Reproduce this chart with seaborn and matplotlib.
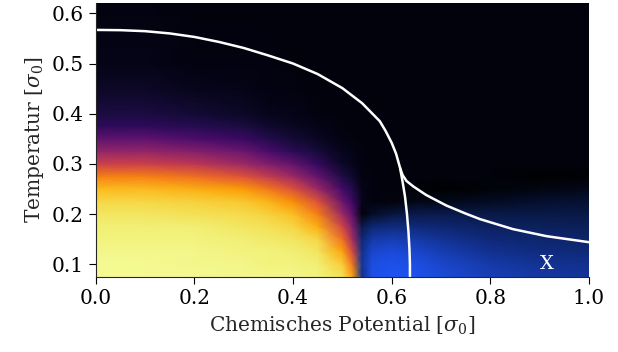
import numpy as np
import matplotlib
matplotlib.use('Agg')
import matplotlib.pyplot as plt
from matplotlib.colors import ListedColormap
import seaborn as sns

# grid of the phase diagram (chemical potential x temperature)
mu_grid = [0.0, 0.1, 0.2, 0.3, 0.35, 0.4, 0.45, 0.5, 0.52, 0.54, 0.56, 0.6, 0.65, 0.7, 0.8, 0.9, 1.0]
T_grid = [0.075, 0.1, 0.125, 0.15, 0.175, 0.2, 0.225, 0.25, 0.275, 0.3, 0.325, 0.35, 0.375, 0.4, 0.45, 0.5, 0.625]

# first order parameter (inferno), rows = T_grid, cols = mu_grid
order_a = [
    [0.98, 0.98, 0.98, 0.97, 0.97, 0.97, 0.96, 0.92, 0.80, 0.35, 0.03, 0.02, 0.02, 0.02, 0.02, 0.02, 0.02],
    [0.98, 0.98, 0.97, 0.97, 0.96, 0.96, 0.95, 0.88, 0.70, 0.25, 0.03, 0.02, 0.02, 0.02, 0.02, 0.02, 0.02],
    [0.97, 0.97, 0.97, 0.96, 0.96, 0.95, 0.93, 0.80, 0.58, 0.18, 0.03, 0.02, 0.02, 0.02, 0.02, 0.02, 0.02],
    [0.96, 0.96, 0.96, 0.95, 0.94, 0.93, 0.90, 0.68, 0.45, 0.13, 0.03, 0.02, 0.02, 0.02, 0.02, 0.02, 0.02],
    [0.95, 0.95, 0.95, 0.93, 0.92, 0.90, 0.82, 0.56, 0.36, 0.10, 0.03, 0.02, 0.02, 0.02, 0.02, 0.02, 0.02],
    [0.93, 0.93, 0.92, 0.91, 0.89, 0.85, 0.72, 0.42, 0.27, 0.07, 0.03, 0.02, 0.02, 0.02, 0.02, 0.02, 0.02],
    [0.90, 0.90, 0.89, 0.87, 0.83, 0.75, 0.60, 0.30, 0.19, 0.05, 0.03, 0.02, 0.02, 0.02, 0.02, 0.02, 0.02],
    [0.84, 0.84, 0.82, 0.78, 0.70, 0.60, 0.42, 0.20, 0.13, 0.04, 0.03, 0.02, 0.02, 0.02, 0.02, 0.02, 0.02],
    [0.72, 0.72, 0.68, 0.60, 0.52, 0.42, 0.28, 0.12, 0.08, 0.03, 0.03, 0.02, 0.02, 0.02, 0.02, 0.02, 0.02],
    [0.54, 0.54, 0.50, 0.42, 0.35, 0.28, 0.17, 0.07, 0.05, 0.03, 0.02, 0.02, 0.02, 0.02, 0.02, 0.02, 0.02],
    [0.40, 0.40, 0.36, 0.30, 0.22, 0.15, 0.10, 0.05, 0.04, 0.03, 0.02, 0.02, 0.02, 0.02, 0.02, 0.02, 0.02],
    [0.27, 0.27, 0.23, 0.18, 0.13, 0.09, 0.06, 0.03, 0.03, 0.02, 0.02, 0.02, 0.02, 0.02, 0.02, 0.02, 0.02],
    [0.16, 0.16, 0.14, 0.11, 0.08, 0.06, 0.04, 0.03, 0.02, 0.02, 0.02, 0.02, 0.02, 0.02, 0.02, 0.02, 0.02],
    [0.11, 0.11, 0.09, 0.07, 0.05, 0.04, 0.03, 0.02, 0.02, 0.02, 0.02, 0.02, 0.02, 0.02, 0.02, 0.02, 0.02],
    [0.07, 0.07, 0.05, 0.04, 0.03, 0.03, 0.02, 0.02, 0.02, 0.02, 0.02, 0.02, 0.02, 0.02, 0.02, 0.02, 0.02],
    [0.04, 0.04, 0.03, 0.03, 0.03, 0.02, 0.02, 0.02, 0.02, 0.02, 0.02, 0.02, 0.02, 0.02, 0.02, 0.02, 0.02],
    [0.03, 0.03, 0.02, 0.02, 0.02, 0.02, 0.02, 0.02, 0.02, 0.02, 0.02, 0.02, 0.02, 0.02, 0.02, 0.02, 0.02],
]

# second order parameter (blue), same grid
order_b = [
    [0, 0, 0, 0, 0, 0, 0, 0, 0, 0.55, 0.90, 0.95, 0.92, 0.85, 0.72, 0.64, 0.60],
    [0, 0, 0, 0, 0, 0, 0, 0, 0, 0.60, 0.88, 0.92, 0.88, 0.80, 0.66, 0.58, 0.55],
    [0, 0, 0, 0, 0, 0, 0, 0, 0, 0.55, 0.80, 0.85, 0.80, 0.70, 0.56, 0.50, 0.47],
    [0, 0, 0, 0, 0, 0, 0, 0, 0, 0.45, 0.65, 0.70, 0.65, 0.58, 0.47, 0.43, 0.41],
    [0, 0, 0, 0, 0, 0, 0, 0, 0, 0.30, 0.45, 0.50, 0.48, 0.44, 0.38, 0.36, 0.35],
    [0, 0, 0, 0, 0, 0, 0, 0, 0, 0.05, 0.15, 0.25, 0.30, 0.30, 0.28, 0.28, 0.28],
    [0, 0, 0, 0, 0, 0, 0, 0, 0, 0, 0, 0.05, 0.08, 0.10, 0.14, 0.18, 0.20],
    [0, 0, 0, 0, 0, 0, 0, 0, 0, 0, 0, 0, 0, 0.01, 0.04, 0.07, 0.10],
    [0, 0, 0, 0, 0, 0, 0, 0, 0, 0, 0, 0, 0, 0, 0, 0.01, 0.02],
    [0, 0, 0, 0, 0, 0, 0, 0, 0, 0, 0, 0, 0, 0, 0, 0, 0],
    [0, 0, 0, 0, 0, 0, 0, 0, 0, 0, 0, 0, 0, 0, 0, 0, 0],
    [0, 0, 0, 0, 0, 0, 0, 0, 0, 0, 0, 0, 0, 0, 0, 0, 0],
    [0, 0, 0, 0, 0, 0, 0, 0, 0, 0, 0, 0, 0, 0, 0, 0, 0],
    [0, 0, 0, 0, 0, 0, 0, 0, 0, 0, 0, 0, 0, 0, 0, 0, 0],
    [0, 0, 0, 0, 0, 0, 0, 0, 0, 0, 0, 0, 0, 0, 0, 0, 0],
    [0, 0, 0, 0, 0, 0, 0, 0, 0, 0, 0, 0, 0, 0, 0, 0, 0],
    [0, 0, 0, 0, 0, 0, 0, 0, 0, 0, 0, 0, 0, 0, 0, 0, 0],
]

# phase boundaries (white lines)
outer_mu = [0.0, 0.05, 0.1, 0.15, 0.2, 0.25, 0.3, 0.35, 0.4, 0.45, 0.5, 0.54,
            0.576, 0.588, 0.6, 0.609, 0.617, 0.622, 0.627, 0.631, 0.634, 0.636, 0.637, 0.637]
outer_T = [0.567, 0.5665, 0.5645, 0.560, 0.553, 0.543, 0.531, 0.516, 0.500, 0.479, 0.451, 0.421,
           0.385, 0.365, 0.342, 0.320, 0.292, 0.265, 0.235, 0.200, 0.165, 0.130, 0.100, 0.075]
branch_mu = [0.617, 0.622, 0.630, 0.644, 0.670, 0.711, 0.750, 0.779, 0.846, 0.914, 1.0]
branch_T = [0.292, 0.278, 0.266, 0.255, 0.238, 0.217, 0.201, 0.190, 0.170, 0.156, 0.144]

sns.set_style('ticks')
plt.rcParams['font.family'] = ['DejaVu Serif']
plt.rcParams['mathtext.fontset'] = 'dejavuserif'

fig = plt.figure(figsize=(6.18, 3.52), dpi=100)
ax = fig.add_axes([0.155, 0.214, 0.798, 0.778])

# one field: inferno phase positive, blue phase negative, both fade to black at 0
a = np.array(order_a)
b = np.array(order_b)
field = np.where(b > 0, -b, a)
blue_part = sns.blend_palette(['#2058ff', '#000000'], n_colors=256)
inferno_part = plt.get_cmap('inferno')(np.linspace(0, 1, 256))[:, :3]
phase_cmap = ListedColormap(list(blue_part) + [tuple(c) for c in inferno_part])

M, T = np.meshgrid(mu_grid, T_grid)
ax.pcolormesh(M, T, field, cmap=phase_cmap, vmin=-1, vmax=1,
              shading='gouraud', rasterized=True)

sns.lineplot(x=outer_mu, y=outer_T, sort=False, estimator=None, color='white', lw=1.8, ax=ax)
sns.lineplot(x=branch_mu, y=branch_T, sort=False, estimator=None, color='white', lw=1.8, ax=ax)

ax.text(0.915, 0.1, 'X', color='white', fontsize=14, ha='center', va='center')

ax.set_xlim(0, 1)
ax.set_ylim(0.0753, 0.621)
ax.set_xticks([0.0, 0.2, 0.4, 0.6, 0.8, 1.0])
ax.set_xticklabels(['0.0', '0.2', '0.4', '0.6', '0.8', '1.0'])
ax.set_yticks([0.1, 0.2, 0.3, 0.4, 0.5, 0.6])
ax.set_yticklabels(['0.1', '0.2', '0.3', '0.4', '0.5', '0.6'])
ax.tick_params(labelsize=14.5, length=5, width=0.8, pad=4, colors='black')
ax.set_xlabel(r'Chemisches Potential [$\sigma_0$]', fontsize=14.5, labelpad=5)
ax.set_ylabel(r'Temperatur [$\sigma_0$]', fontsize=14.5, labelpad=4)
sns.despine(ax=ax)

fig.savefig('out.png', dpi=100)
